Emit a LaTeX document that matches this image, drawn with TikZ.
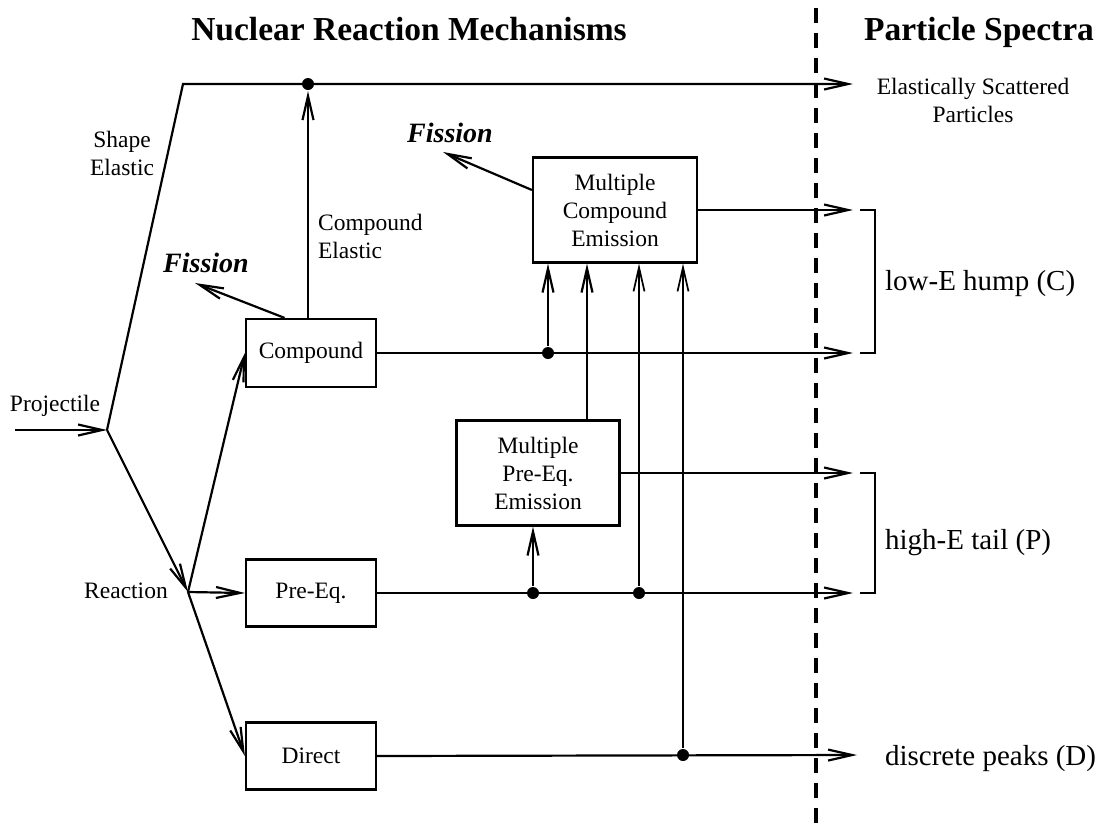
\documentclass[tikz,border=0pt]{standalone}
\usepackage{fontspec}
\setmainfont{Liberation Serif}
\usetikzlibrary{arrows.meta,calc}
\begin{document}
\begin{tikzpicture}[x=1pt,y=-1pt,line width=2.2pt,
  box/.style={draw,line width=2.2pt,align=center,inner sep=0pt,font=\fontsize{23.5}{28}\selectfont},
  lab/.style={inner sep=0pt,align=center,font=\fontsize{23.5}{28}\selectfont},
  big/.style={inner sep=0pt,anchor=base west,font=\fontsize{29}{34}\selectfont},
  ttl/.style={inner sep=0pt,anchor=base,font=\bfseries\fontsize{33.5}{40}\selectfont},
  fis/.style={inner sep=0pt,anchor=base,font=\bfseries\itshape\fontsize{28}{33}\selectfont},
  dot/.style={circle,fill,inner sep=0pt,minimum size=12pt},
  arr/.style={-{Straight Barb[length=24pt,width=11pt]}},
  thinline/.style={line width=1.7pt}]
\useasboundingbox (0,0) rectangle (1099,825);

% divider
\draw[line width=4.5pt,dash pattern=on 15pt off 10pt] (816,8) -- (816,825);

% titles
\node[ttl] (t1) at (409,40) {Nuclear Reaction Mechanisms};
\node[ttl] (t2) at (979,40) {Particle Spectra};

% boxes
\node[box,minimum width=130pt,minimum height=68pt] (comp) at (311,353) {Compound};
\node[box,minimum width=130pt,minimum height=67pt] (preq) at (311,593) {Pre-Eq.};
\node[box,minimum width=130pt,minimum height=67pt] (dir) at (311,756) {Direct};
\node[box,minimum width=164pt,minimum height=105pt] (mce) at (615,210) {Multiple\\Compound\\Emission};
\node[box,minimum width=163pt,minimum height=105pt] (mpe) at (538,473) {Multiple\\Pre-Eq.\\Emission};

% junctions and ends
\coordinate (pin) at (15,430);
\coordinate (J1) at (107,430);
\coordinate (J2) at (188,592);
\coordinate (Tc) at (183,84);
\coordinate (e0) at (853,84);
\coordinate (e1) at (853,210);
\coordinate (e2) at (853,353);
\coordinate (e3) at (853,473);
\coordinate (e4) at (853,593);
\coordinate (e5) at (857,755);
\coordinate (ft1) at (195,283);
\coordinate (ft2) at (443,152);

% dots
\node[dot] (d0) at (308,84) {};
\node[dot] (d1) at (548,353) {};
\node[dot] (d2) at (533,593) {};
\node[dot] (d3) at (639,593) {};
\node[dot] (d4) at (683,755) {};

% left part
\draw[arr] (pin) -- (J1);
\draw[arr] (J1) -- (Tc) -- (e0);
\draw[arr] (J1) -- (J2);
\draw[arr] (J2) -- (comp.west);
\draw[arr] (J2) -- (preq.west);
\draw[arr] (J2) -- (dir.west);
\draw[arr] (d0 |- comp.north) -- (d0);
\draw[arr] ($(comp.north west)!0.3!(comp.north east)$) -- (ft1);
\draw[arr] ($(mce.west)+(0,-20)$) -- (ft2);

% outputs
\draw[arr] (comp.east) -- (e2);
\draw[arr] (preq.east) -- (e4);
\draw[arr] (dir.east) -- (e5);
\draw[arr] (mce.east) -- (e1);
\draw[arr] (mpe.east) -- (e3);

% feeds into multiple emission
\draw[arr] (d1) -- (d1 |- mce.south);
\draw[arr] ($(mpe.north)+(49,0)$) -- ($(mce.south)+(-28,0)$);
\draw[arr,thinline] (d3) -- (d3 |- mce.south);
\draw[arr,thinline] (d4) -- (d4 |- mce.south);
\draw[arr] (d2) -- (d2 |- mpe.south);

% brackets
\coordinate (b1) at (860,210);
\coordinate (b2) at (875,210);
\coordinate (b3) at (875,353);
\coordinate (b4) at (860,353);
\draw[thinline] (b1) -- (b2) -- (b3) -- (b4);
\coordinate (c1) at (860,473);
\coordinate (c2) at (875,473);
\coordinate (c3) at (875,593);
\coordinate (c4) at (860,593);
\draw[thinline] (c1) -- (c2) -- (c3) -- (c4);

% labels
\node[lab,anchor=base] (proj) at (55,411) {Projectile};
\node[lab] (shape) at (122,153) {Shape\\Elastic};
\node[lab,anchor=base] (reac) at (126,598) {Reaction};
\node[lab,align=left,anchor=west] (ce) at (317,236) {Compound\\Elastic};
\node[fis] (fis1) at (206,272) {Fission};
\node[fis] (fis2) at (450,142) {Fission};
\node[lab] (esp) at (973,100) {Elastically Scattered\\Particles};
\node[big] (lowe) at (884,290) {low-E hump (C)};
\node[big] (highe) at (884,549) {high-E tail (P)};
\node[big] (disc) at (884,765) {discrete peaks (D)};
\end{tikzpicture}
\end{document}
